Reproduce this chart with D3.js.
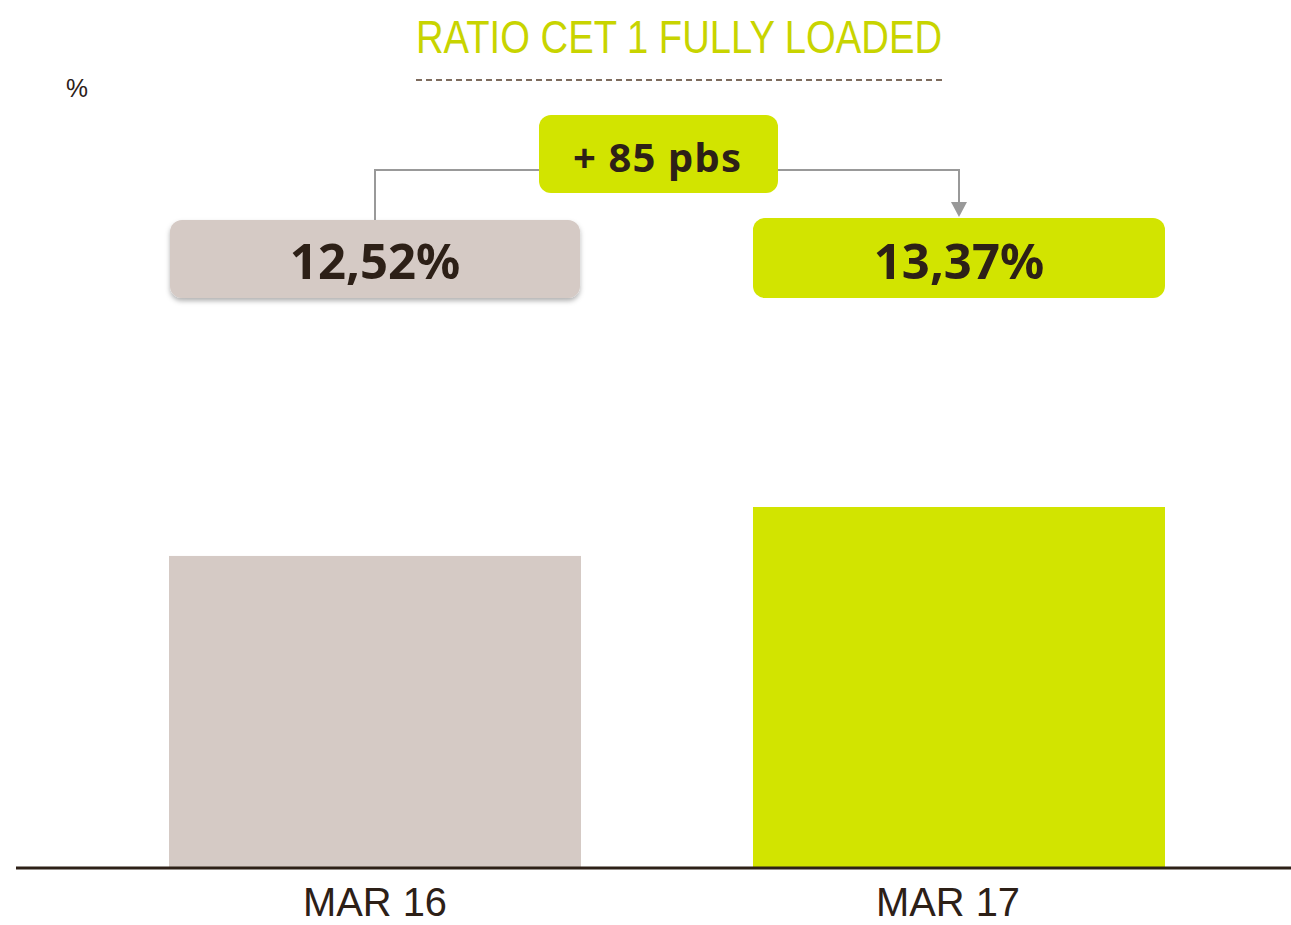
<!DOCTYPE html>
<html>
<head>
<meta charset="utf-8">
<script src="https://cdn.jsdelivr.net/npm/d3@7"></script>
<style>
  body { margin: 0; background: #fff; }
  svg { display: block; }
</style>
</head>
<body>
<svg width="1291" height="925"></svg>
<script>
var categories = ["MAR 16", "MAR 17"];
var values = [12.52, 13.37];
var valueLabels = ["12,52%", "13,37%"];
var deltaLabel = "+ 85 pbs";
var title = "RATIO CET 1 FULLY LOADED";
var unit = "%";

var data = categories.map(function(c, i) {
  return { cat: c, value: values[i], label: valueLabels[i] };
});

var svg = d3.select("svg");
var narrow = "'Liberation Sans', Arial, sans-serif";
var boldFont = "'Noto Sans', 'Open Sans', sans-serif";

var colors = d3.scaleOrdinal()
  .domain(categories)
  .range(["#d5cac5", "#d2e400"]);

var x = d3.scaleBand()
  .domain(categories)
  .range([169, 1165])
  .paddingInner(0.2945)
  .paddingOuter(0);

var y = d3.scaleLinear()
  .domain([7.1, 13.37])
  .range([868, 507]);

// defs: shadow for the grey label
var defs = svg.append("defs");
var f = defs.append("filter").attr("id", "shadow")
  .attr("x", "-10%").attr("y", "-20%").attr("width", "120%").attr("height", "150%");
f.append("feDropShadow")
  .attr("dx", 0).attr("dy", 3).attr("stdDeviation", 2.5)
  .attr("flood-color", "#000").attr("flood-opacity", 0.3);

// title (condensed by squeezing glyphs)
svg.append("text")
  .attr("x", 416)
  .attr("y", 53)
  .attr("font-family", narrow)
  .attr("font-size", 46)
  .attr("fill", "#c8d400")
  .attr("textLength", 526)
  .attr("lengthAdjust", "spacingAndGlyphs")
  .text(title);

svg.append("line")
  .attr("x1", 416).attr("x2", 944)
  .attr("y1", 80).attr("y2", 80)
  .attr("stroke", "#7d6b5d")
  .attr("stroke-width", 2)
  .attr("stroke-dasharray", "6,4");

svg.append("text")
  .attr("x", 66)
  .attr("y", 97)
  .attr("font-family", narrow)
  .attr("font-size", 26)
  .attr("fill", "#2d2017")
  .attr("textLength", 22)
  .attr("lengthAdjust", "spacingAndGlyphs")
  .text(unit);

// bars
svg.append("g")
  .selectAll("rect")
  .data(data)
  .enter().append("rect")
  .attr("x", function(d) { return x(d.cat); })
  .attr("y", function(d) { return y(d.value); })
  .attr("width", x.bandwidth())
  .attr("height", function(d) { return y.range()[0] - y(d.value); })
  .attr("fill", function(d) { return colors(d.cat); });

// baseline axis
var axis = svg.append("g")
  .attr("transform", "translate(0,868)")
  .call(d3.axisBottom(x).tickSize(0).tickPadding(0));
axis.select(".domain").remove();
axis.append("line")
  .attr("x1", 16).attr("x2", 1291)
  .attr("stroke", "#2d2017")
  .attr("stroke-width", 3);
axis.selectAll(".tick text")
  .attr("font-family", narrow)
  .attr("font-size", 40)
  .attr("fill", "#2d2017")
  .attr("text-anchor", "start")
  .attr("y", 48)
  .attr("dy", 0)
  .attr("x", function(d, i) { return i === 0 ? -72 : -83; })
  .attr("textLength", 144)
  .attr("lengthAdjust", "spacingAndGlyphs");

// value labels
var cx = function(d) { return x(d.cat) + x.bandwidth() / 2; };
var boxes = svg.append("g")
  .selectAll("g")
  .data(data)
  .enter().append("g");

boxes.append("rect")
  .attr("x", function(d, i) { return x(d.cat) + (i === 0 ? 1 : 0); })
  .attr("y", function(d, i) { return i === 0 ? 220 : 218; })
  .attr("width", function(d, i) { return x.bandwidth() - (i === 0 ? 2 : 0); })
  .attr("height", function(d, i) { return i === 0 ? 78 : 80; })
  .attr("rx", 12)
  .attr("fill", function(d) { return colors(d.cat); })
  .attr("filter", function(d, i) { return i === 0 ? "url(#shadow)" : null; });

boxes.append("text")
  .attr("x", cx)
  .attr("y", 279)
  .attr("text-anchor", "middle")
  .attr("font-family", boldFont)
  .attr("font-weight", "bold")
  .attr("font-size", 49)
  .attr("fill", "#2d2017")
  .text(function(d) { return d.label; });

// connectors
var c0 = cx(data[0]), c1 = cx(data[1]);
svg.append("path")
  .attr("d", "M539,170H" + c0 + "V220")
  .attr("fill", "none")
  .attr("stroke", "#999")
  .attr("stroke-width", 2);
svg.append("path")
  .attr("d", "M778,170H" + c1 + "V203")
  .attr("fill", "none")
  .attr("stroke", "#999")
  .attr("stroke-width", 2);
svg.append("path")
  .attr("d", "M" + (c1 - 8) + ",202L" + (c1 + 8) + ",202L" + c1 + ",217Z")
  .attr("fill", "#999");

// delta box
svg.append("rect")
  .attr("x", 539).attr("y", 115)
  .attr("width", 239).attr("height", 78)
  .attr("rx", 12)
  .attr("fill", "#d2e400");
svg.append("text")
  .attr("x", 573)
  .attr("y", 172)
  .attr("font-family", boldFont)
  .attr("font-weight", "bold")
  .attr("font-size", 40)
  .attr("fill", "#2d2017")
  .attr("textLength", 168)
  .attr("lengthAdjust", "spacing")
  .text(deltaLabel);
</script>
</body>
</html>
